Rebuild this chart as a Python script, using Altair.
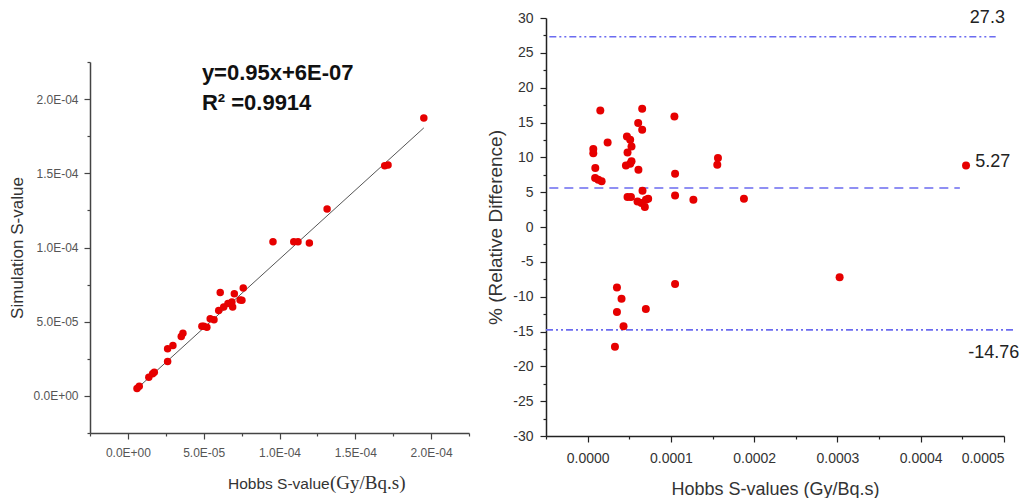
import altair as alt
import pandas as pd

# ---------------- Left panel: Simulation vs Hobbs S-values ----------------
hobbs_s = [0.60e-5, 0.75e-5, 1.38e-5, 1.63e-5, 1.74e-5, 2.62e-5, 2.62e-5, 2.97e-5,
           3.52e-5, 3.63e-5, 4.88e-5, 5.00e-5, 5.21e-5, 5.43e-5, 5.68e-5, 5.99e-5,
           6.09e-5, 6.32e-5, 6.60e-5, 6.86e-5, 7.02e-5, 6.91e-5, 7.40e-5, 7.52e-5,
           7.61e-5, 9.57e-5, 1.094e-4, 1.122e-4, 1.197e-4, 1.314e-4, 1.694e-4,
           1.716e-4, 1.952e-4]
sim_s = [0.50e-5, 0.65e-5, 1.26e-5, 1.49e-5, 1.60e-5, 2.32e-5, 3.17e-5, 3.40e-5,
         4.00e-5, 4.23e-5, 4.70e-5, 4.70e-5, 4.63e-5, 5.20e-5, 5.13e-5, 5.76e-5,
         6.96e-5, 5.99e-5, 6.22e-5, 6.33e-5, 6.89e-5, 5.99e-5, 6.46e-5, 6.44e-5,
         7.27e-5, 1.038e-4, 1.038e-4, 1.038e-4, 1.031e-4, 1.259e-4, 1.551e-4,
         1.556e-4, 1.872e-4]
fit_x = [0.46e-5, 1.952e-4]
fit_y = [0.36e-5, 1.806e-4]
eq_text = ["y=0.95x+6E-07", "R\u00b2 =0.9914"]
eq_x = [4.88e-5, 4.88e-5]
eq_y = [2.178e-4, 1.976e-4]
left_domain = [-2.5e-5, 2.25e-4]
left_ticks = [round(-2.5e-5 + 2.5e-5 * i, 10) for i in range(11)]

# ---------------- Right panel: relative difference ----------------
ba_x = [6.8e-6, 6.8e-6, 9.2e-6, 9.0e-6, 1.28e-5, 1.68e-5, 1.52e-5, 2.40e-5,
        4.72e-5, 5.11e-5, 5.27e-5, 4.79e-5, 5.27e-5, 4.60e-5, 5.11e-5, 6.10e-5,
        6.07e-5, 6.55e-5, 6.55e-5, 4.79e-5, 5.20e-5, 6.59e-5, 5.99e-5, 6.47e-5,
        6.87e-5, 7.27e-5, 7.00e-5, 1.042e-4, 1.05e-4, 1.05e-4, 1.27e-4, 1.565e-4,
        1.557e-4, 1.877e-4, 4.544e-4,
        3.52e-5, 4.07e-5, 3.52e-5, 4.31e-5, 3.28e-5, 6.99e-5, 1.05e-4, 3.026e-4]
ba_y = [11.2, 10.6, 8.47, 7.03, 6.79, 6.55, 16.73, 12.14,
        13.0, 12.53, 11.57, 10.71, 9.42, 8.84, 9.08, 8.22,
        14.92, 13.96, 16.97, 4.3, 4.3, 5.21, 3.67, 3.44,
        2.87, 4.06, 3.9, 15.87, 7.65, 4.53, 3.92, 9.9,
        8.94, 4.06, 8.84,
        -8.67, -10.3, -12.2, -14.26, -17.2, -11.76, -8.18, -7.23]
upper_loa = 27.3
mean_line = 5.6
lower_loa = -14.76
upper_x = [-4.6e-5, 4.9e-4]
mean_x = [-4.6e-5, 4.47e-4]
lower_x = [-5.0e-5, 5.13e-4]
ann_text = ["27.3", "5.27", "-14.76"]
ann_x = [4.59e-4, 4.655e-4, 4.57e-4]
ann_y = [30.0, 9.37, -18.03]
right_xdomain = [-5e-5, 5e-4]
right_ydomain = [-30, 30]
right_xticks = [round(-5e-5 + 5e-5 * i, 10) for i in range(12)]
right_yticks = [-30 + 2.5 * i for i in range(25)]

RED = "#e60000"
BLUE = "#6b6bf0"
FONT = "Liberation Sans"

# ---------------- helpers ----------------
MINOR_L = "abs(datum.value/5e-5 - round(datum.value/5e-5)) > 1e-6"
EXP = "floor(log(abs(datum.value))/LN10 + 1e-9)"
LABEL_L = (f"abs(datum.value) < 1e-12 ? '0.0E+00' : ({MINOR_L} ? '' : "
           f"format(datum.value/pow(10,{EXP}),'.1f') + 'E' + ({EXP} < 0 ? '-' : '+') + "
           f"pad(toString(abs({EXP})),2,'0','left'))")

MINOR_RY = "abs(datum.value/5 - round(datum.value/5)) > 1e-6"
MINOR_RX = "abs(datum.value/1e-4 - round(datum.value/1e-4)) > 1e-6"


def tick_size(test):
    return {"condition": {"test": test, "value": 3}, "value": 6}


left_axis_common = dict(
    domainColor="#444", domainWidth=1.5, tickColor="#444", tickWidth=1.2,
    labelFont=FONT, labelFontSize=12, labelColor="#555", labelExpr=LABEL_L,
    labelOverlap=False, grid=False, tickCount=200,
)

df_left = pd.DataFrame({"x": hobbs_s, "y": sim_s})
df_fit = pd.DataFrame({"x": fit_x, "y": fit_y})
df_eq = pd.DataFrame({"x": eq_x, "y": eq_y, "t": eq_text})

lx = alt.X("x:Q", scale=alt.Scale(domain=left_domain, nice=False, zero=False),
           axis=alt.Axis(title=None, values=left_ticks, tickSize=tick_size(MINOR_L),
                         labelPadding=8, **left_axis_common))
ly = alt.Y("y:Q", scale=alt.Scale(domain=left_domain, nice=False, zero=False),
           axis=alt.Axis(title="Simulation S-value", values=left_ticks,
                         tickSize=tick_size(MINOR_L), labelPadding=6,
                         titleFont=FONT, titleFontSize=17, titleFontWeight="normal",
                         titleColor="#333", titlePadding=6, **left_axis_common))

left_fit = alt.Chart(df_fit).mark_line(color="#555", strokeWidth=1).encode(x=lx, y=ly)
left_pts = alt.Chart(df_left).mark_circle(size=56, color=RED, opacity=1).encode(x="x:Q", y="y:Q")
left_eq = alt.Chart(df_eq).mark_text(align="left", baseline="middle", font=FONT,
                                     fontSize=22, fontWeight="bold", color="#111").encode(
    x="x:Q", y="y:Q", text="t:N")
xt1 = alt.Chart(pd.DataFrame({"t": ["Hobbs S-value"]})).mark_text(
    align="left", baseline="alphabetic", font=FONT, fontSize=15.5, color="#333").encode(
    x=alt.value(138), y=alt.value(427), text="t:N")
xt2 = alt.Chart(pd.DataFrame({"t": ["(Gy/Bq.s)"]})).mark_text(
    align="left", baseline="alphabetic", font="Liberation Serif", fontSize=19, color="#333").encode(
    x=alt.value(240), y=alt.value(427), text="t:N")

left = alt.layer(left_fit, left_pts, left_eq, xt1, xt2).properties(width=379, height=371)

# invisible spacer that lowers the left panel relative to the right one
spacer = alt.Chart(pd.DataFrame({"a": [0]})).mark_point(opacity=0).encode(
    x=alt.value(0), y=alt.value(0)).properties(width=379, height=34)
left_col = alt.vconcat(spacer, left, spacing=4)

# ---------------- right chart ----------------
right_axis_common = dict(
    domainColor="#222", domainWidth=1.5, tickColor="#222", tickWidth=1.2,
    labelFont=FONT, labelFontSize=14, labelColor="#333", grid=False,
    labelOverlap=False, tickCount=200,
    titleFont=FONT, titleFontWeight="normal", titleColor="#333",
)

df_ba = pd.DataFrame({"x": ba_x, "y": ba_y})
rx = alt.X("x:Q", scale=alt.Scale(domain=right_xdomain, nice=False, zero=False),
           axis=alt.Axis(title="Hobbs S-values (Gy/Bq.s)", values=right_xticks,
                         tickSize=tick_size(MINOR_RX),
                         labelExpr=f"{MINOR_RX} ? '' : format(datum.value, '.4f')",
                         labelPadding=9, titleFontSize=18, titlePadding=15,
                         **right_axis_common))
ry = alt.Y("y:Q", scale=alt.Scale(domain=right_ydomain, nice=False, zero=False),
           axis=alt.Axis(title="% (Relative Difference)", values=right_yticks,
                         tickSize=tick_size(MINOR_RY),
                         labelExpr=f"{MINOR_RY} ? '' : toString(datum.value)",
                         labelPadding=7, titleFontSize=19, titlePadding=7,
                         **right_axis_common))

right_pts = alt.Chart(df_ba).mark_circle(size=64, color=RED, opacity=1).encode(x=rx, y=ry)


def hline(xs, yv, dash):
    d = pd.DataFrame({"x": [xs[0]], "x2": [xs[1]], "y": [yv]})
    return alt.Chart(d).mark_rule(color=BLUE, strokeWidth=1.6, strokeDash=dash).encode(
        x="x:Q", x2="x2:Q", y="y:Q")


r_up = hline(upper_x, upper_loa, [7, 3, 2, 3, 2, 3])
r_mean = hline(mean_x, mean_line, [9, 6])
r_low = hline(lower_x, lower_loa, [7, 3, 2, 3, 2, 3])
df_ann = pd.DataFrame({"x": ann_x, "y": ann_y, "t": ann_text})
r_ann = alt.Chart(df_ann).mark_text(align="left", baseline="middle", font=FONT,
                                    fontSize=18, color="#222").encode(
    x="x:Q", y="y:Q", text="t:N")

right = alt.layer(r_up, r_mean, r_low, right_pts, r_ann).properties(width=458, height=418)

chart = alt.hconcat(left_col, right, spacing=16).properties(
    padding={"left": 0, "top": 1, "right": 0, "bottom": 0}
).configure_view(stroke=None)

chart.save("out.html", embed_options={"renderer": "svg", "actions": False})
